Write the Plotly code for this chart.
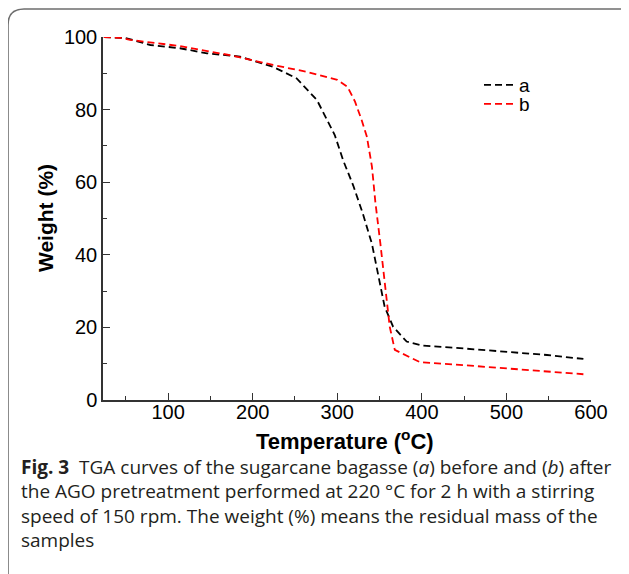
import plotly.graph_objects as go

# ---- data ----
temp_a = [24, 50, 79, 114, 146, 185, 224, 252, 276, 297, 307, 319, 330, 341, 356, 366, 382, 401, 449, 501, 548, 591]
weight_a = [100, 99.7, 97.8, 96.9, 95.5, 94.6, 91.8, 88.6, 82.6, 73, 66, 59, 51.5, 43, 25.7, 20.2, 16.1, 15, 14.2, 13.3, 12.4, 11.3]

temp_b = [24, 43, 55, 114, 173, 224, 264, 300, 312, 321, 329, 335, 341, 345, 351, 356, 362, 368, 398, 449, 501, 548, 591]
weight_b = [100, 99.8, 99.2, 97.5, 95, 92.3, 90.4, 88.2, 86.3, 82.2, 77, 72.5, 64.3, 54.6, 43, 32, 20.2, 13.8, 10.4, 9.6, 8.7, 7.8, 7.1]

series_names = ["a", "b"]
x_ticks = [100, 200, 300, 400, 500, 600]
y_ticks = [0, 20, 40, 60, 80, 100]

caption_lines = [
    "<b>Fig. 3</b>  TGA curves of the sugarcane bagasse (<i>a</i>) before and (<i>b</i>) after",
    "the AGO pretreatment performed at 220 °C for 2 h with a stirring",
    "speed of 150 rpm. The weight (%) means the residual mass of the",
    "samples",
]

# page body has an 8px margin: work in screen pixels and shift by OFF
OFF = 8
W, H = 629 - OFF, 574 - OFF
L, R, T, B = 103, 591, 37, 400  # plot area in screen pixels
pw, ph = R - L, B - T


def px(x):
    return (x - L) / pw


def py(y):
    return (B - y) / ph


FONT = "Liberation Sans, Arial, sans-serif"

fig = go.Figure()
fig.add_trace(go.Scatter(x=temp_a, y=weight_a, mode="lines", name=series_names[0],
                         line=dict(color="black", width=1.8, dash="7px,4px"),
                         legend="legend"))
fig.add_trace(go.Scatter(x=temp_b, y=weight_b, mode="lines", name=series_names[1],
                         line=dict(color="#ff0000", width=1.8, dash="7px,4px"),
                         legend="legend2"))

axis_common = dict(
    showgrid=False, zeroline=False, showline=True, linecolor="#333333", linewidth=1.5,
    ticks="inside", ticklen=7, tickwidth=1.2, tickcolor="#333333",
    tickfont=dict(family=FONT, size=20, color="black"),
    mirror=False,
)

fig.update_xaxes(range=[23, 600], tickvals=x_ticks, ticklabelstandoff=-7, **axis_common,
                 minor=dict(dtick=50, ticks="inside", ticklen=4, tickwidth=1.2, tickcolor="#333333"))
fig.update_yaxes(range=[0, 100], tickvals=y_ticks, **axis_common,
                 minor=dict(dtick=10, ticks="inside", ticklen=4, tickwidth=1.2, tickcolor="#333333"))

legend_common = dict(font=dict(family=FONT, size=19, color="black"), bgcolor="rgba(0,0,0,0)",
                     xanchor="left", yanchor="middle", itemwidth=30, borderwidth=0)

fig.update_layout(
    width=W, height=H,
    margin=dict(l=L - OFF, r=(W + OFF) - R, t=T - OFF, b=(H + OFF) - B, autoexpand=False),
    paper_bgcolor="white", plot_bgcolor="white",
    showlegend=True,
    legend=dict(x=px(479), y=py(85), **legend_common),
    legend2=dict(x=px(479), y=py(104), **legend_common),
)

# axis titles
fig.add_annotation(x=px(345), y=py(440), xref="paper", yref="paper",
                   text="<b>Temperature (<sup>o</sup>C)</b>", showarrow=False,
                   font=dict(family=FONT, size=22, color="black"), xanchor="center", yanchor="middle")
fig.add_annotation(x=px(45), y=py(218), xref="paper", yref="paper",
                   text="<b>Weight (%)</b>", showarrow=False, textangle=-90,
                   font=dict(family=FONT, size=21, color="black"), xanchor="center", yanchor="middle")

# caption
cap_y = [467, 491, 516, 540]
for line, yy in zip(caption_lines, cap_y):
    fig.add_annotation(x=px(19), y=py(yy), xref="paper", yref="paper", text=line,
                       showarrow=False, xanchor="left", yanchor="middle", align="left",
                       font=dict(family="Open Sans, sans-serif", size=19, color="#231f20"))

# rounded frame
r = 16
pts = f"M {px(8)},{py(590)} L {px(8)},{py(9 + r)} Q {px(8)},{py(9)} {px(8 + r)},{py(9)} L {px(650)},{py(9)}"
fig.add_shape(type="path", path=pts, xref="paper", yref="paper",
              line=dict(color="#6e6e6e", width=1.6))

fig.write_html("out.html")
